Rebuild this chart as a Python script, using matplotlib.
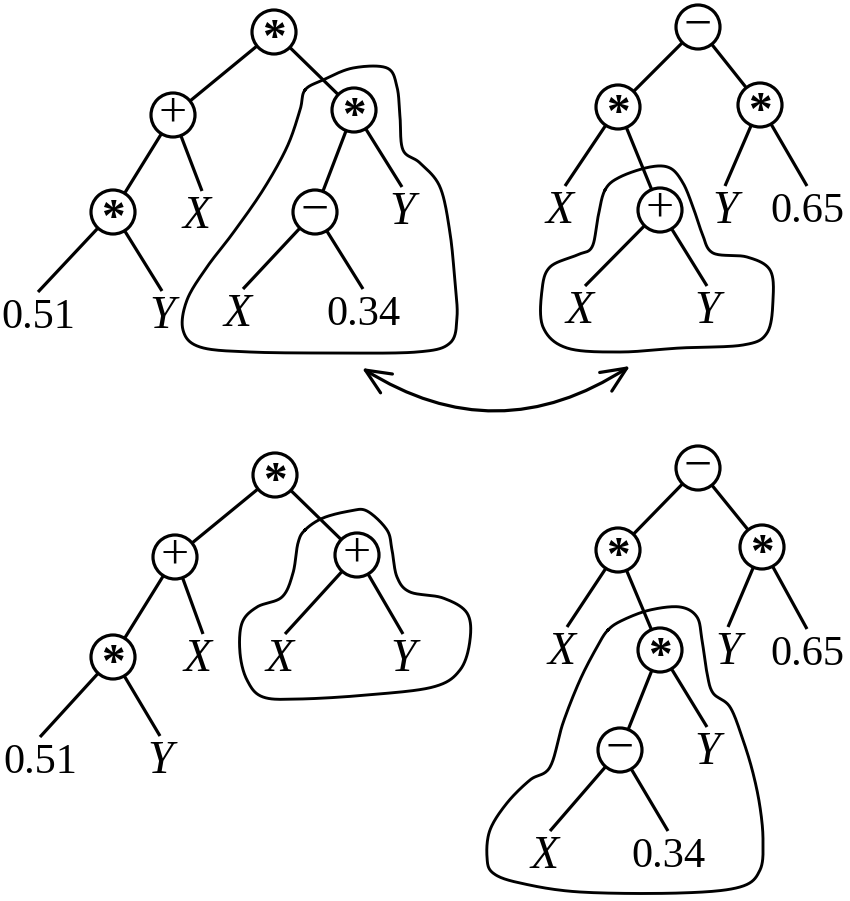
import matplotlib.pyplot as plt
from matplotlib.patches import Circle, FancyArrowPatch
import numpy as np

# ── tree data (labels, parent index, pixel positions) ─────────────────────────
ops = ['*', '+', '\u2212']

t1_labels = ['*', '+', '*', '*', 'X', '\u2212', 'Y', '0.51', 'Y', 'X', '0.34']
t1_parent = [None, 0, 0, 1, 1, 2, 2, 3, 3, 5, 5]
t1_x = [274, 173, 354, 113, 197, 315, 402, 38, 162, 238, 363]
t1_y = [32, 115, 110, 212, 217, 212, 213, 318, 317, 315, 315]

t2_labels = ['\u2212', '*', '*', 'X', '+', 'Y', '0.65', 'X', 'Y']
t2_parent = [None, 0, 0, 1, 1, 2, 2, 4, 4]
t2_x = [698, 618, 760, 560, 660, 725, 807, 580, 707]
t2_y = [27, 107, 105, 212, 210, 212, 212, 312, 312]

t3_labels = ['*', '+', '+', '*', 'X', 'X', 'Y', '0.51', 'Y']
t3_parent = [None, 0, 0, 1, 1, 2, 2, 3, 3]
t3_x = [275, 175, 357, 113, 198, 280, 403, 40, 160]
t3_y = [475, 557, 555, 657, 660, 660, 660, 763, 762]

t4_labels = ['\u2212', '*', '*', 'X', '*', 'Y', '0.65', '\u2212', 'Y', 'X', '0.34']
t4_parent = [None, 0, 0, 1, 1, 2, 2, 4, 4, 7, 7]
t4_x = [698, 618, 762, 562, 660, 728, 807, 620, 707, 545, 668]
t4_y = [468, 550, 547, 653, 650, 653, 655, 750, 753, 857, 857]

# hand-drawn loops around the swapped subtrees
loop1 = [(305, 90), (323, 80), (353, 68), (387, 68), (397, 87), (400, 117), (403, 150),
         (420, 163), (440, 187), (450, 233), (455, 283), (457, 317), (450, 343), (417, 352),
         (333, 353), (250, 352), (200, 347), (183, 330), (187, 300), (207, 267), (233, 233),
         (263, 190), (287, 147), (300, 110)]
loop2 = [(605, 190), (620, 177), (650, 167), (670, 168), (683, 183), (693, 207), (702, 233),
         (713, 253), (747, 257), (770, 270), (773, 300), (767, 333), (743, 345), (680, 348),
         (620, 352), (567, 348), (543, 327), (542, 290), (550, 267), (577, 255), (592, 247),
         (598, 217)]
loop3 = [(305, 530), (323, 518), (350, 511), (367, 511), (387, 530), (392, 550), (397, 577),
         (410, 592), (443, 598), (467, 613), (470, 640), (460, 670), (433, 687), (367, 695),
         (300, 699), (263, 697), (247, 680), (240, 653), (242, 623), (257, 607), (282, 597),
         (293, 573), (298, 543)]
loop4 = [(608, 630), (623, 620), (650, 610), (680, 607), (697, 617), (702, 640), (707, 673),
         (713, 693), (730, 707), (743, 740), (753, 773), (760, 807), (763, 840), (760, 870),
         (740, 887), (680, 893), (580, 892), (520, 883), (493, 873), (487, 857), (490, 830),
         (507, 803), (530, 780), (550, 767), (563, 723), (580, 680), (597, 647)]

LW = 2.3
R = 22
SERIF = 'Liberation Serif'


def closed_spline(pts, n=20):
    # periodic Catmull-Rom through the traced points
    p = np.array(pts, dtype=float)
    out = []
    m = len(p)
    for i in range(m):
        p0, p1, p2, p3 = p[i - 1], p[i], p[(i + 1) % m], p[(i + 2) % m]
        t = np.linspace(0, 1, n, endpoint=False)[:, None]
        out.append(0.5 * ((2 * p1) + (-p0 + p2) * t + (2 * p0 - 5 * p1 + 4 * p2 - p3) * t ** 2
                          + (-p0 + 3 * p1 - 3 * p2 + p3) * t ** 3))
    out = np.vstack(out)
    return np.vstack([out, out[:1]])


def draw_tree(ax, labels, parent, xs, ys):
    for i, par in enumerate(parent):
        if par is None:
            continue
        if labels[i] in ops:
            ex, ey = xs[i], ys[i]
        else:
            ex = xs[i] + (5 if labels[i] == 'X' else 0)
            ey = ys[i] - 26
        ax.plot([xs[par], ex], [ys[par], ey], c='k', lw=LW, solid_capstyle='butt', zorder=1)
    for lab, x, y in zip(labels, xs, ys):
        if lab in ops:
            ax.add_patch(Circle((x, y), R, fc='white', ec='k', lw=LW, zorder=2))
            if lab == '*':
                ax.text(x, y + 8, lab, fontsize=34, family=SERIF, weight='bold',
                        ha='center', va='center', zorder=3)
            else:
                ax.text(x, y - 1, lab, fontsize=36, family=SERIF,
                        ha='center', va='center', zorder=3)
        elif lab in ('X', 'Y'):
            ax.text(x, y, lab, fontsize=33, family=SERIF, style='italic',
                    ha='center', va='center', zorder=3)
        else:
            ax.text(x, y, lab, fontsize=30.5, family=SERIF,
                    ha='center', va='center', zorder=3)


fig = plt.figure(figsize=(8.5, 9.01), dpi=100)
ax = fig.add_axes([0, 0, 1, 1])
ax.set_xlim(0, 850)
ax.set_ylim(901, 0)
ax.axis('off')

for loop in (loop1, loop2, loop3, loop4):
    c = closed_spline(loop)
    ax.plot(c[:, 0], c[:, 1], c='k', lw=LW * 0.9, zorder=0.5)

draw_tree(ax, t1_labels, t1_parent, t1_x, t1_y)
draw_tree(ax, t2_labels, t2_parent, t2_x, t2_y)
draw_tree(ax, t3_labels, t3_parent, t3_x, t3_y)
draw_tree(ax, t4_labels, t4_parent, t4_x, t4_y)

# crossover arrow between the two selected subtrees
arrow = FancyArrowPatch((362, 368), (630, 366), connectionstyle='arc3,rad=0.32',
                        arrowstyle='<->,head_length=18,head_width=8', lw=LW, color='k',
                        shrinkA=0, shrinkB=0)
ax.add_patch(arrow)

fig.savefig('out.png', dpi=100, facecolor='white')
